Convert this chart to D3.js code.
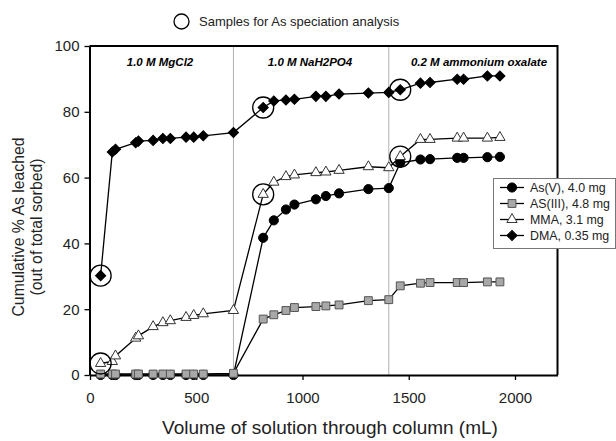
<!DOCTYPE html>
<html><head><meta charset="utf-8">
<script src="https://cdn.jsdelivr.net/npm/d3@7"></script>
<style>body{margin:0;background:#fff}svg{display:block;font-family:"Liberation Sans",Arial,sans-serif}</style>
</head><body><svg id="c" width="616" height="441"></svg>
<script>
const volumes = [50,105,120,215,228,297,343,378,452,488,533,675,
  815,865,922,962,1063,1110,1172,1310,1406,
  1460,1555,1600,1728,1758,1870,1929];
const asV = [0,0,0,0,0,0,0,0,0,0,0,0,
  41.7,47,50.3,51.8,53.4,54.4,55.2,56.5,56.8,
  64.5,65.5,65.6,66,66,66.2,66.3];
const asIII = [0.3,0.3,0.3,0.3,0.3,0.3,0.3,0.3,0.3,0.3,0.3,0.5,
  17,18.3,19.6,20.5,20.8,21,21.3,22.6,22.9,
  27.1,27.9,28.1,28.1,28.1,28.3,28.3];
const mma = [3.5,4.1,5.8,11.2,11.9,14.7,15.9,16.5,17.5,18.1,18.6,19.6,
  54.9,58.6,60.3,60.8,61.5,61.7,62.2,63.3,63.0,
  66.4,71.6,71.6,72,72,72,72.2];
const dma = [30.2,67.8,68.6,70.6,71.1,71.3,71.9,71.9,72.3,72.3,72.7,73.7,
  81.3,83.3,83.6,83.8,84.7,84.7,85.4,85.7,85.9,
  86.7,88.7,88.9,89.9,89.9,90.9,90.9];
const seriesNames = ["As(V), 4.0 mg","AS(III), 4.8 mg","MMA, 3.1 mg","DMA, 0.35 mg"];
const sampleIdx = [0,12,21]; // indices of circled samples (DMA & MMA)
const phaseBreaks = [675,1406];
const phaseLabels = ["1.0 M MgCl2","1.0 M NaH2PO4","0.2 M ammonium oxalate"];
const phaseLabelX = [160,310,479];
const xTicks = [0,500,1000,1500,2000];
const yTicks = [0,20,40,60,80,100];

const svg = d3.select("#c");
const m = {l:89.5,r:557.5,t:46,b:375};
const x = d3.scaleLinear().domain([0,2200]).range([m.l+0.5,m.r]);
const y = d3.scaleLinear().domain([0,100]).range([m.b,m.t]);

svg.selectAll(".sep").data(phaseBreaks).join("line")
  .attr("x1",d=>x(d)).attr("x2",d=>x(d)).attr("y1",m.t).attr("y2",m.b)
  .attr("stroke","#b0b0b0").attr("stroke-width",1);

svg.append("path").attr("d",`M${m.l},${m.t}H${m.r}V${m.b}`)
  .attr("fill","none").attr("stroke","#000").attr("stroke-width",2);

const xa = svg.append("g").attr("transform",`translate(0,${m.b})`)
  .call(d3.axisBottom(x).tickValues(xTicks).tickFormat(d3.format("d")).tickSize(5).tickPadding(12).tickSizeOuter(0));
const ya = svg.append("g").attr("transform",`translate(${m.l},0)`)
  .call(d3.axisLeft(y).tickValues(yTicks).tickFormat(d3.format("d")).tickSize(5).tickPadding(5).tickSizeOuter(0));
[xa,ya].forEach(a=>{
  a.select(".domain").attr("stroke","#000").attr("stroke-width",2);
  a.selectAll(".tick line").attr("stroke","#000").attr("stroke-width",1.3);
  a.selectAll("text").attr("font-size",15).attr("fill","#222").attr("font-family","Liberation Sans, Arial");
});

svg.selectAll(".pl").data(phaseLabels).join("text")
  .attr("x",(d,i)=>phaseLabelX[i]).attr("y",66).attr("text-anchor","middle")
  .attr("font-size",11.5).attr("font-weight","bold").attr("font-style","italic").text(d=>d);

const data = [asV,asIII,mma,dma];
const line = d3.line().x((d,i)=>x(volumes[i])).y(d=>y(d));
const sym = [
  {t:d3.symbolCircle,s:66,fill:"#000",stroke:"#000",rot:0},
  {t:d3.symbolSquare,s:62,fill:"#a8a8a8",stroke:"#555",rot:0},
  {t:d3.symbolTriangle,s:46,fill:"#fff",stroke:"#333",rot:0},
  {t:d3.symbolSquare,s:52,fill:"#000",stroke:"#000",rot:45}
];
data.forEach(arr=>{
  svg.append("path").datum(arr).attr("d",line).attr("fill","none")
    .attr("stroke","#000").attr("stroke-width",1.3);
});
data.forEach((arr,k)=>{
  svg.append("g").selectAll("path").data(arr).join("path")
    .attr("transform",(d,i)=>`translate(${x(volumes[i])},${y(d)}) rotate(${sym[k].rot})`)
    .attr("d",d3.symbol().type(sym[k].t).size(sym[k].s))
    .attr("fill",sym[k].fill).attr("stroke",sym[k].stroke).attr("stroke-width",1);
});

[mma,dma].forEach(arr=>{
  svg.append("g").selectAll("circle").data(sampleIdx).join("circle")
    .attr("cx",i=>x(volumes[i])).attr("cy",i=>y(arr[i])).attr("r",10.5)
    .attr("fill","none").attr("stroke","#000").attr("stroke-width",1.3);
});

svg.append("circle").attr("cx",181.5).attr("cy",21.5).attr("r",7.5)
  .attr("fill","none").attr("stroke","#000").attr("stroke-width",1.3);
svg.append("text").attr("x",199).attr("y",26).attr("font-size",13).attr("fill","#222")
  .text("Samples for As speciation analysis");

const lg = svg.append("g");
lg.append("rect").attr("x",493.5).attr("y",178.5).attr("width",122).attr("height",70)
  .attr("fill","#fff").attr("stroke","#777").attr("stroke-width",1);
seriesNames.forEach((n,k)=>{
  const yy = 187.5 + k*16;
  lg.append("line").attr("x1",500).attr("x2",524).attr("y1",yy).attr("y2",yy)
    .attr("stroke","#000").attr("stroke-width",1.3);
  lg.append("path").attr("transform",`translate(512,${yy}) rotate(${sym[k].rot})`)
    .attr("d",d3.symbol().type(sym[k].t).size(sym[k].s))
    .attr("fill",sym[k].fill).attr("stroke",sym[k].stroke).attr("stroke-width",1);
  lg.append("text").attr("x",530).attr("y",yy+4.5).attr("font-size",12.4).attr("fill","#222").text(n);
});

svg.append("text").attr("x",330).attr("y",434).attr("text-anchor","middle")
  .attr("font-size",19).attr("fill","#222").text("Volume of solution through column (mL)");
const yt = svg.append("text").attr("transform","translate(24,227) rotate(-90)")
  .attr("text-anchor","middle").attr("font-size",15.8).attr("fill","#222");
yt.append("tspan").attr("x",0).attr("dy",0).text("Cumulative % As leached");
yt.append("tspan").attr("x",0).attr("dy",17.5).text("(out of total sorbed)");
</script></body></html>
